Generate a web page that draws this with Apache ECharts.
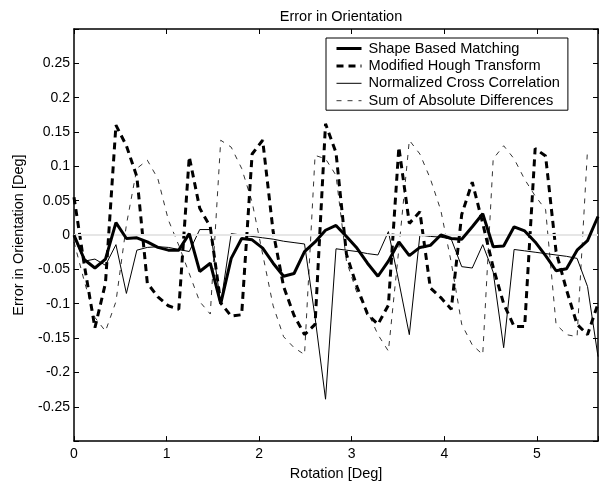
<!DOCTYPE html>
<html>
<head>
<meta charset="utf-8">
<script src="https://cdn.jsdelivr.net/npm/echarts@6/dist/echarts.min.js"></script>
<style>
html,body{margin:0;padding:0;background:#fff;}
#c{width:605px;height:486px;}
</style>
</head>
<body>
<div id="c"></div>
<script>
// Rotation angles [deg]
var rotation = [0, 0.113, 0.226, 0.340, 0.453, 0.566, 0.679, 0.792, 0.906, 1.019,
  1.132, 1.245, 1.358, 1.472, 1.585, 1.698, 1.811, 1.924, 2.038, 2.151,
  2.264, 2.377, 2.490, 2.604, 2.717, 2.830, 2.943, 3.056, 3.170, 3.283,
  3.396, 3.509, 3.622, 3.736, 3.849, 3.962, 4.075, 4.188, 4.302, 4.415,
  4.528, 4.641, 4.754, 4.868, 4.981, 5.094, 5.207, 5.320, 5.434, 5.547, 5.660];

var shapeBased = [0, -0.036, -0.048, -0.035, 0.018, -0.005, -0.004, -0.010, -0.018, -0.022,
  -0.022, 0.002, -0.053, -0.041, -0.100, -0.034, -0.005, -0.007, -0.019, -0.041,
  -0.060, -0.056, -0.024, -0.010, 0.007, 0.014, -0.002, -0.019, -0.041, -0.060,
  -0.038, -0.010, -0.030, -0.018, -0.015, 0.000, -0.005, -0.006, 0.012, 0.031,
  -0.017, -0.016, 0.012, 0.006, -0.010, -0.030, -0.052, -0.049, -0.022, -0.008, 0.027];

var houghModified = [0.055, -0.045, -0.135, -0.070, 0.160, 0.130, 0.085, -0.070, -0.090, -0.103,
  -0.108, 0.114, 0.039, 0.012, -0.099, -0.118, -0.116, 0.118, 0.138, 0.005,
  -0.075, -0.117, -0.145, -0.130, 0.162, 0.120, -0.028, -0.075, -0.115, -0.130,
  -0.102, 0.128, 0.017, 0.034, -0.077, -0.091, -0.108, 0.030, 0.077, 0.017,
  -0.047, -0.100, -0.133, -0.133, 0.126, 0.115, -0.024, -0.080, -0.130, -0.145, -0.100];

var normCrossCorr = [-0.003, -0.038, -0.035, -0.044, -0.014, -0.085, -0.022, -0.018, -0.017, -0.018,
  -0.021, -0.024, 0.008, 0.008, -0.100, 0.002, 0.000, -0.002, -0.004, -0.006,
  -0.009, -0.011, -0.013, -0.120, -0.239, -0.020, -0.022, -0.024, -0.027, -0.029,
  0.005, -0.068, -0.145, 0.000, -0.002, -0.003, -0.006, -0.046, -0.048, -0.014,
  -0.054, -0.164, -0.021, -0.023, -0.025, -0.027, -0.029, -0.031, -0.034, -0.075, -0.177];

var sumAbsDiff = [-0.010, -0.068, -0.120, -0.140, -0.097, 0.015, 0.097, 0.109, 0.082, 0.022,
  -0.015, -0.056, -0.097, -0.115, 0.138, 0.128, 0.097, 0.048, -0.028, -0.103,
  -0.148, -0.164, -0.174, 0.116, 0.111, 0.087, -0.038, -0.084, -0.111, -0.145,
  -0.169, -0.020, 0.138, 0.118, 0.082, 0.036, -0.040, -0.130, -0.160, -0.174,
  0.111, 0.130, 0.111, 0.081, 0.057, 0.037, -0.130, -0.145, -0.148, 0.125, null];

var seriesNames = ['Shape Based Matching', 'Modified Hough Transform',
  'Normalized Cross Correlation', 'Sum of Absolute Differences'];

function pairs(ys) {
  return rotation.map(function (x, i) { return [x, ys[i]]; });
}

var FONT = 'Liberation Sans, Arial, Helvetica, sans-serif';
var chart = echarts.init(document.getElementById('c'), null, {renderer: 'canvas'});

var lineStyles = [
  {color: '#000', width: 3, type: 'solid'},
  {color: '#000', width: 3, type: [7, 5]},
  {color: '#000', width: 1, type: 'solid'},
  {color: '#000', width: 0.8, type: [5, 6]}
];

function axisBase(extra) {
  var base = {
    axisLine: {show: true, onZero: false, lineStyle: {color: '#000', width: 1.5}},
    axisTick: {show: true, inside: true, length: 5, lineStyle: {color: '#000', width: 1}},
    splitLine: {show: false}
  };
  return Object.assign(base, extra);
}

var option = {
  backgroundColor: '#fff',
  animation: false,
  title: {
    text: 'Error in Orientation',
    left: 336, top: 4, textAlign: 'center',
    textStyle: {fontFamily: FONT, fontSize: 14.5, fontWeight: 'normal', color: '#000'}
  },
  grid: {left: 74, right: 7, top: 29, bottom: 44, containLabel: false},
  legend: {
    data: seriesNames.map(function (n, i) {
      return {name: n, lineStyle: lineStyles[i]};
    }),
    orient: 'vertical',
    left: 326, top: 38,
    backgroundColor: '#fff',
    borderColor: '#000', borderWidth: 1,
    padding: [3, 8, 2, 9],
    itemWidth: 25, itemHeight: 12, itemGap: 2.4,
    itemStyle: {opacity: 0},
    textStyle: {fontFamily: FONT, fontSize: 14.6, color: '#000', lineHeight: 14.5, padding: [0, 0, 0, 2]}
  },
  xAxis: [
    axisBase({
      type: 'value', min: 0, max: 5.66, interval: 1, position: 'bottom',
      name: 'Rotation [Deg]', nameLocation: 'middle', nameGap: 19,
      nameTextStyle: {fontFamily: FONT, fontSize: 14.5, color: '#000'},
      axisLabel: {
        show: true, margin: 6, color: '#000', fontFamily: FONT, fontSize: 14,
        formatter: function (v) {
          return Math.abs(v - Math.round(v)) < 1e-6 ? String(Math.round(v)) : '';
        }
      }
    }),
    axisBase({
      type: 'value', min: 0, max: 5.66, interval: 1, position: 'top',
      axisLabel: {show: false}
    })
  ],
  yAxis: [
    axisBase({
      type: 'value', min: -0.3, max: 0.3, interval: 0.05, position: 'left',
      name: 'Error in Orientation [Deg]', nameLocation: 'middle', nameGap: 48,
      nameTextStyle: {fontFamily: FONT, fontSize: 14.5, color: '#000'},
      axisLabel: {
        show: true, margin: 4, color: '#000', fontFamily: FONT, fontSize: 14,
        formatter: function (v) {
          if (Math.abs(v) > 0.29) return '';
          return String(+v.toFixed(2));
        }
      }
    }),
    axisBase({
      type: 'value', min: -0.3, max: 0.3, interval: 0.05, position: 'right',
      axisLabel: {show: false}
    })
  ],
  series: [
    {
      type: 'line', xAxisIndex: 0, yAxisIndex: 0, data: [], silent: true,
      markLine: {
        silent: true, symbol: 'none', animation: false,
        label: {show: false},
        lineStyle: {color: '#e6e6e6', width: 2, type: 'solid'},
        data: [{yAxis: 0}]
      }
    },
    {
      name: seriesNames[0], type: 'line', data: pairs(shapeBased),
      symbol: 'none', showSymbol: false,
      lineStyle: lineStyles[0],
      itemStyle: {color: '#000'}, z: 5
    },
    {
      name: seriesNames[1], type: 'line', data: pairs(houghModified),
      symbol: 'none', showSymbol: false,
      lineStyle: lineStyles[1],
      itemStyle: {color: '#000'}, z: 4
    },
    {
      name: seriesNames[2], type: 'line', data: pairs(normCrossCorr),
      symbol: 'none', showSymbol: false,
      lineStyle: lineStyles[2],
      itemStyle: {color: '#000'}, z: 3
    },
    {
      name: seriesNames[3], type: 'line', data: pairs(sumAbsDiff),
      symbol: 'none', showSymbol: false, connectNulls: false,
      lineStyle: lineStyles[3],
      itemStyle: {color: '#000'}, z: 2
    }
  ]
};
chart.setOption(option);
</script>
</body>
</html>
